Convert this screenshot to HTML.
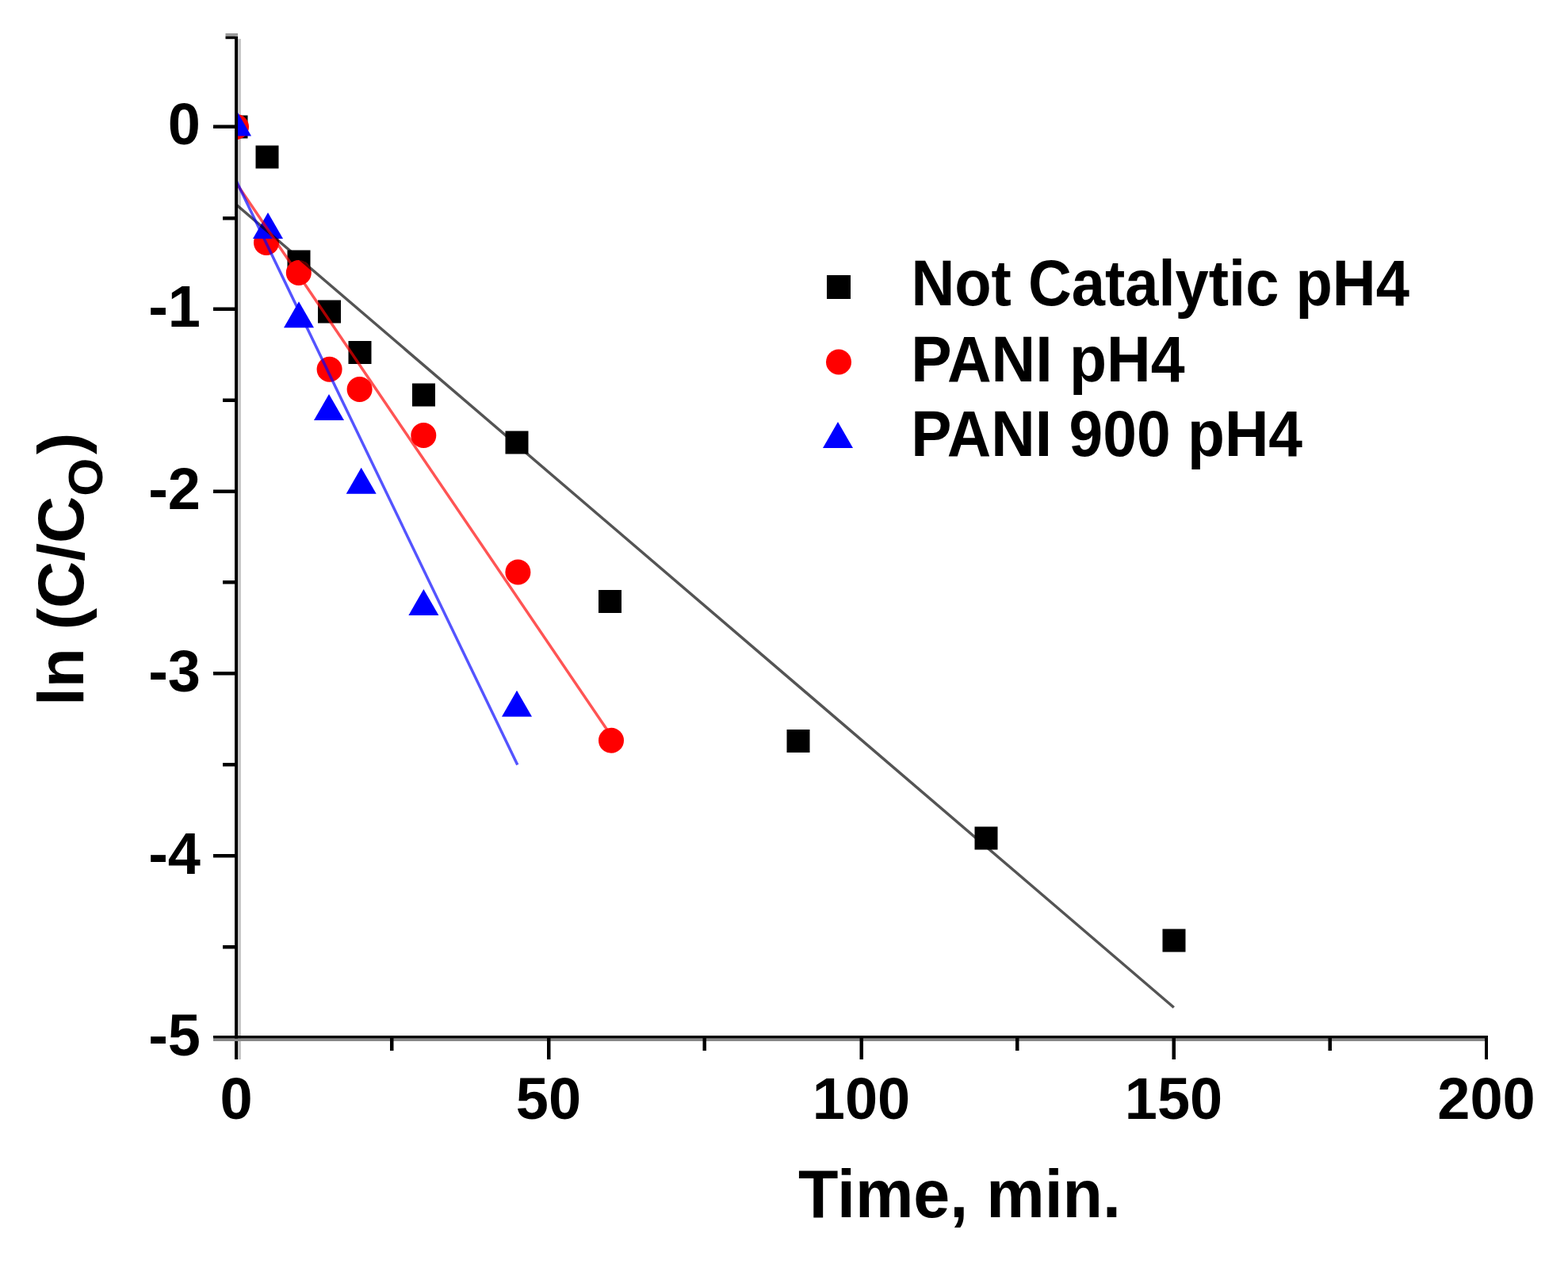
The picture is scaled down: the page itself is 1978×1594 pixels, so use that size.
<!DOCTYPE html>
<html>
<head>
<meta charset="utf-8">
<title>ln(C/Co) vs Time</title>
<style>
html,body{margin:0;padding:0;background:#fff;}
body{width:1978px;height:1594px;overflow:hidden;}
svg{display:block;}
text{font-family:"Liberation Sans",Arial,sans-serif;fill:#000;}
.tk{font-size:74px;font-weight:bold;}
.lg{font-size:82px;font-weight:bold;}
.ti{font-size:85px;font-weight:bold;}
.yt{font-size:82px;font-weight:bold;}
</style>
</head>
<body>
<svg width="1978" height="1594" viewBox="0 0 1978 1594">
<rect x="0" y="0" width="1978" height="1594" fill="#fff"/>
<defs>
<clipPath id="plot"><rect x="300" y="40" width="1580" height="1266"/></clipPath>
</defs>

<!-- axis shading -->
<rect x="300" y="49" width="4" height="1287" fill="#c8c8c8"/>
<!-- data markers -->
<g clip-path="url(#plot)">
<g id="sq" fill="#000">
<rect x="283.5" y="145.5" width="29" height="29"/>
<rect x="322.5" y="183.5" width="29" height="29"/>
<rect x="362.5" y="315.5" width="29" height="29"/>
<rect x="401" y="378.5" width="29" height="29"/>
<rect x="439.5" y="430" width="29" height="29"/>
<rect x="520" y="483.5" width="29" height="29"/>
<rect x="637.5" y="543.5" width="29" height="29"/>
<rect x="755" y="744" width="29" height="29"/>
<rect x="992.5" y="920" width="29" height="29"/>
<rect x="1229.5" y="1042.5" width="29" height="29"/>
<rect x="1466.5" y="1171.5" width="29" height="29"/>
</g>
<g id="ci" fill="#f00">
<circle cx="298" cy="160" r="16"/>
<circle cx="336" cy="306" r="16"/>
<circle cx="376.8" cy="344" r="16"/>
<circle cx="415.6" cy="465.7" r="16"/>
<circle cx="453.6" cy="491" r="16"/>
<circle cx="534.3" cy="549" r="16"/>
<circle cx="653.4" cy="721.5" r="16"/>
<circle cx="771" cy="933.7" r="16"/>
</g>
<g id="tr" fill="#00f">
<polygon points="298,138.5 317,171.5 279,171.5"/>
<polygon points="338,268.0 357,301.0 319,301.0"/>
<polygon points="377,380.3 396,413.3 358,413.3"/>
<polygon points="415,497.0 434,530.0 396,530.0"/>
<polygon points="455.7,589.7 474.7,622.7 436.7,622.7"/>
<polygon points="534.4,742.9 553.4,775.9 515.4,775.9"/>
<polygon points="652,870.7 671,903.7 633,903.7"/>
</g>
<!-- fit lines -->
<line x1="298" y1="258.1" x2="1480.8" y2="1270.5" stroke="#000" stroke-opacity="0.67" stroke-width="3.5"/>
<line x1="298" y1="230.8" x2="771" y2="928" stroke="#f00" stroke-opacity="0.67" stroke-width="3.5"/>
<line x1="298" y1="228" x2="652.8" y2="964.5" stroke="#00f" stroke-opacity="0.67" stroke-width="3.5"/>
</g>

<!-- axes -->
<g id="axes">
<rect x="296" y="45.7" width="4" height="1290.3" fill="#000"/>
<rect x="269" y="1309.5" width="1608" height="3.5" fill="#888"/>
<rect x="269" y="1306" width="1608" height="3.5" fill="#000"/>
<!-- y ticks major -->
<g fill="#000">
<rect x="269" y="157.5" width="27" height="4.5"/>
<rect x="269" y="387.5" width="27" height="4.5"/>
<rect x="269" y="617.5" width="27" height="4.5"/>
<rect x="269" y="847" width="27" height="4.5"/>
<rect x="269" y="1077" width="27" height="4.5"/>
<!-- y ticks minor -->
<rect x="284.5" y="42" width="15.5" height="3.7" fill="#9a9a9a"/>
<rect x="284.5" y="45.7" width="12" height="3.5"/>
<rect x="281" y="273" width="15" height="4.5"/>
<rect x="281" y="502.5" width="15" height="4.5"/>
<rect x="281" y="732" width="15" height="4.5"/>
<rect x="281" y="962" width="15" height="4.5"/>
<rect x="281" y="1192" width="15" height="4.5"/>
<!-- x ticks major -->
<rect x="690" y="1309" width="4.5" height="27"/>
<rect x="1084.5" y="1309" width="4.5" height="27"/>
<rect x="1478.5" y="1309" width="4.5" height="27"/>
<rect x="1873" y="1306" width="4" height="30"/>
<!-- x ticks minor -->
<rect x="492" y="1309" width="4.5" height="16"/>
<rect x="886.5" y="1309" width="4.5" height="16"/>
<rect x="1281" y="1309" width="4.5" height="16"/>
<rect x="1675.5" y="1309" width="4.5" height="16"/>
</g>
</g>

<!-- tick labels -->
<g class="tk" text-anchor="end">
<text x="253" y="182">0</text>
<text x="253" y="412">-1</text>
<text x="253" y="642">-2</text>
<text x="253" y="872">-3</text>
<text x="253" y="1102">-4</text>
<text x="253" y="1331">-5</text>
</g>
<g class="tk" text-anchor="middle">
<text x="298" y="1411">0</text>
<text x="692" y="1411">50</text>
<text x="1086.5" y="1411">100</text>
<text x="1480.5" y="1411">150</text>
<text x="1875" y="1411">200</text>
</g>

<!-- axis titles -->
<text class="ti" x="1007" y="1535" textLength="407" lengthAdjust="spacingAndGlyphs">Time, min.</text>
<text class="yt" transform="translate(105,890) rotate(-90)">ln (C/C<tspan font-size="62" dy="23.5">O</tspan><tspan dx="4.5" dy="-23.5">)</tspan></text>

<!-- legend -->
<rect x="1043" y="347" width="30" height="30" fill="#000"/>
<circle cx="1058" cy="456.5" r="16" fill="#f00"/>
<polygon points="1057,532 1076,565 1038,565" fill="#00f"/>
<g class="lg">
<text x="1149.4" y="384.5" textLength="628.5" lengthAdjust="spacingAndGlyphs">Not Catalytic pH4</text>
<text x="1149.3" y="480.5" textLength="345.2" lengthAdjust="spacingAndGlyphs">PANI pH4</text>
<text x="1149.3" y="574.5" textLength="493.8" lengthAdjust="spacingAndGlyphs">PANI 900 pH4</text>
</g>
</svg>
</body>
</html>
